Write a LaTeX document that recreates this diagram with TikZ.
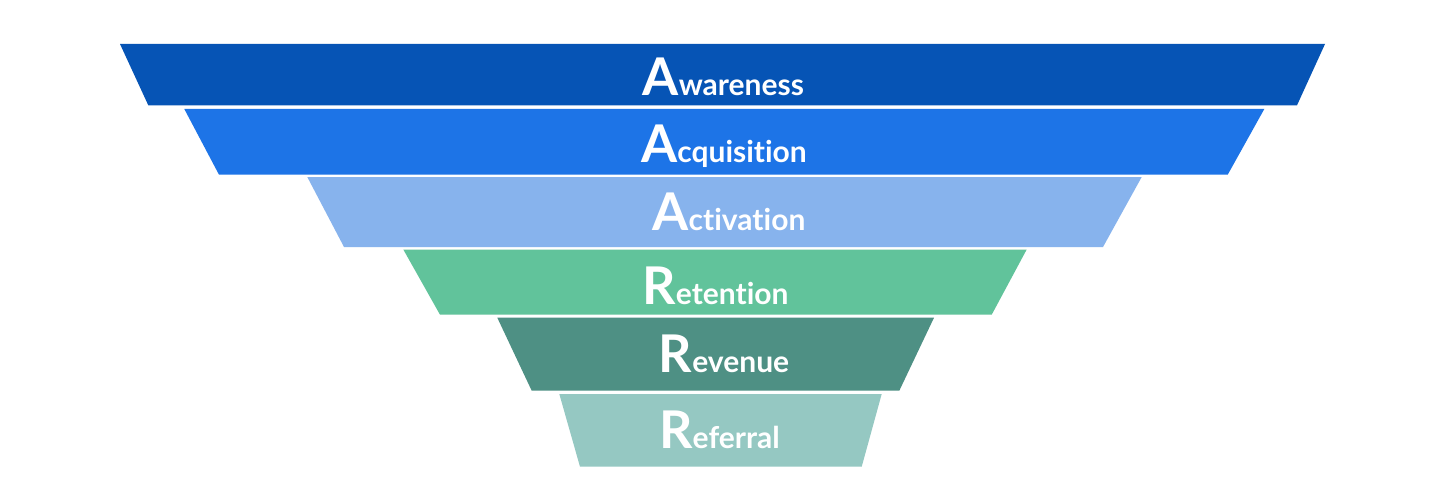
\documentclass[tikz,border=0pt]{standalone}
\usepackage{fontspec}
\newfontfamily\lblfont{Lato}[RawFeature={-liga;-dlig;-clig}]
\definecolor{cAware}{HTML}{0654B5}
\definecolor{cAcq}{HTML}{1D74E7}
\definecolor{cAct}{HTML}{87B3ED}
\definecolor{cRet}{HTML}{61C39B}
\definecolor{cRev}{HTML}{4E9084}
\definecolor{cRef}{HTML}{95C8C2}
\newcommand{\funlabel}[2]{{\fontsize{52}{52}\selectfont #1}{\fontsize{30}{30}\selectfont #2}}
\begin{document}
\begin{tikzpicture}[x=1pt,y=-1pt,
  band/.style={draw=none},
  lbl/.style={anchor=base, text=white, inner sep=0pt, font=\lblfont\bfseries}]
\useasboundingbox (0,0) rectangle (1448,492);
\fill[white] (0,0) rectangle (1448,492);
% bands
\path[band, fill=cAware] (120,44) -- (1325,44) -- (1297,105.3) -- (148.3,105.3) -- cycle;
\path[band, fill=cAcq] (184.3,109) -- (1264.3,109) -- (1227.7,174.7) -- (219,174.7) -- cycle;
\path[band, fill=cAct] (307.3,177) -- (1141.7,177) -- (1103,247) -- (344,247) -- cycle;
\path[band, fill=cRet] (403.3,249.5) -- (1026.7,249.5) -- (991.7,314.7) -- (440,314.7) -- cycle;
\path[band, fill=cRev] (497.3,317.7) -- (934,317.7) -- (899.3,390.7) -- (531.7,390.7) -- cycle;
\path[band, fill=cRef] (559.3,394) -- (881.7,394) -- (861.7,466.7) -- (580,466.7) -- cycle;
% labels
\node[lbl] (aware) at (723.3,96) {\funlabel{A}{wareness}};
\node[lbl] (acq) at (724,162.7) {\funlabel{A}{cquisition}};
\node[lbl] (act) at (729,230) {\funlabel{A}{ctivation}};
\node[lbl] (ret) at (715.5,304.3) {\funlabel{R}{etention}};
\node[lbl] (rev) at (724,372.7) {\funlabel{R}{evenue}};
\node[lbl] (ref) at (719.5,448.3) {\funlabel{R}{eferral}};
\end{tikzpicture}
\end{document}
